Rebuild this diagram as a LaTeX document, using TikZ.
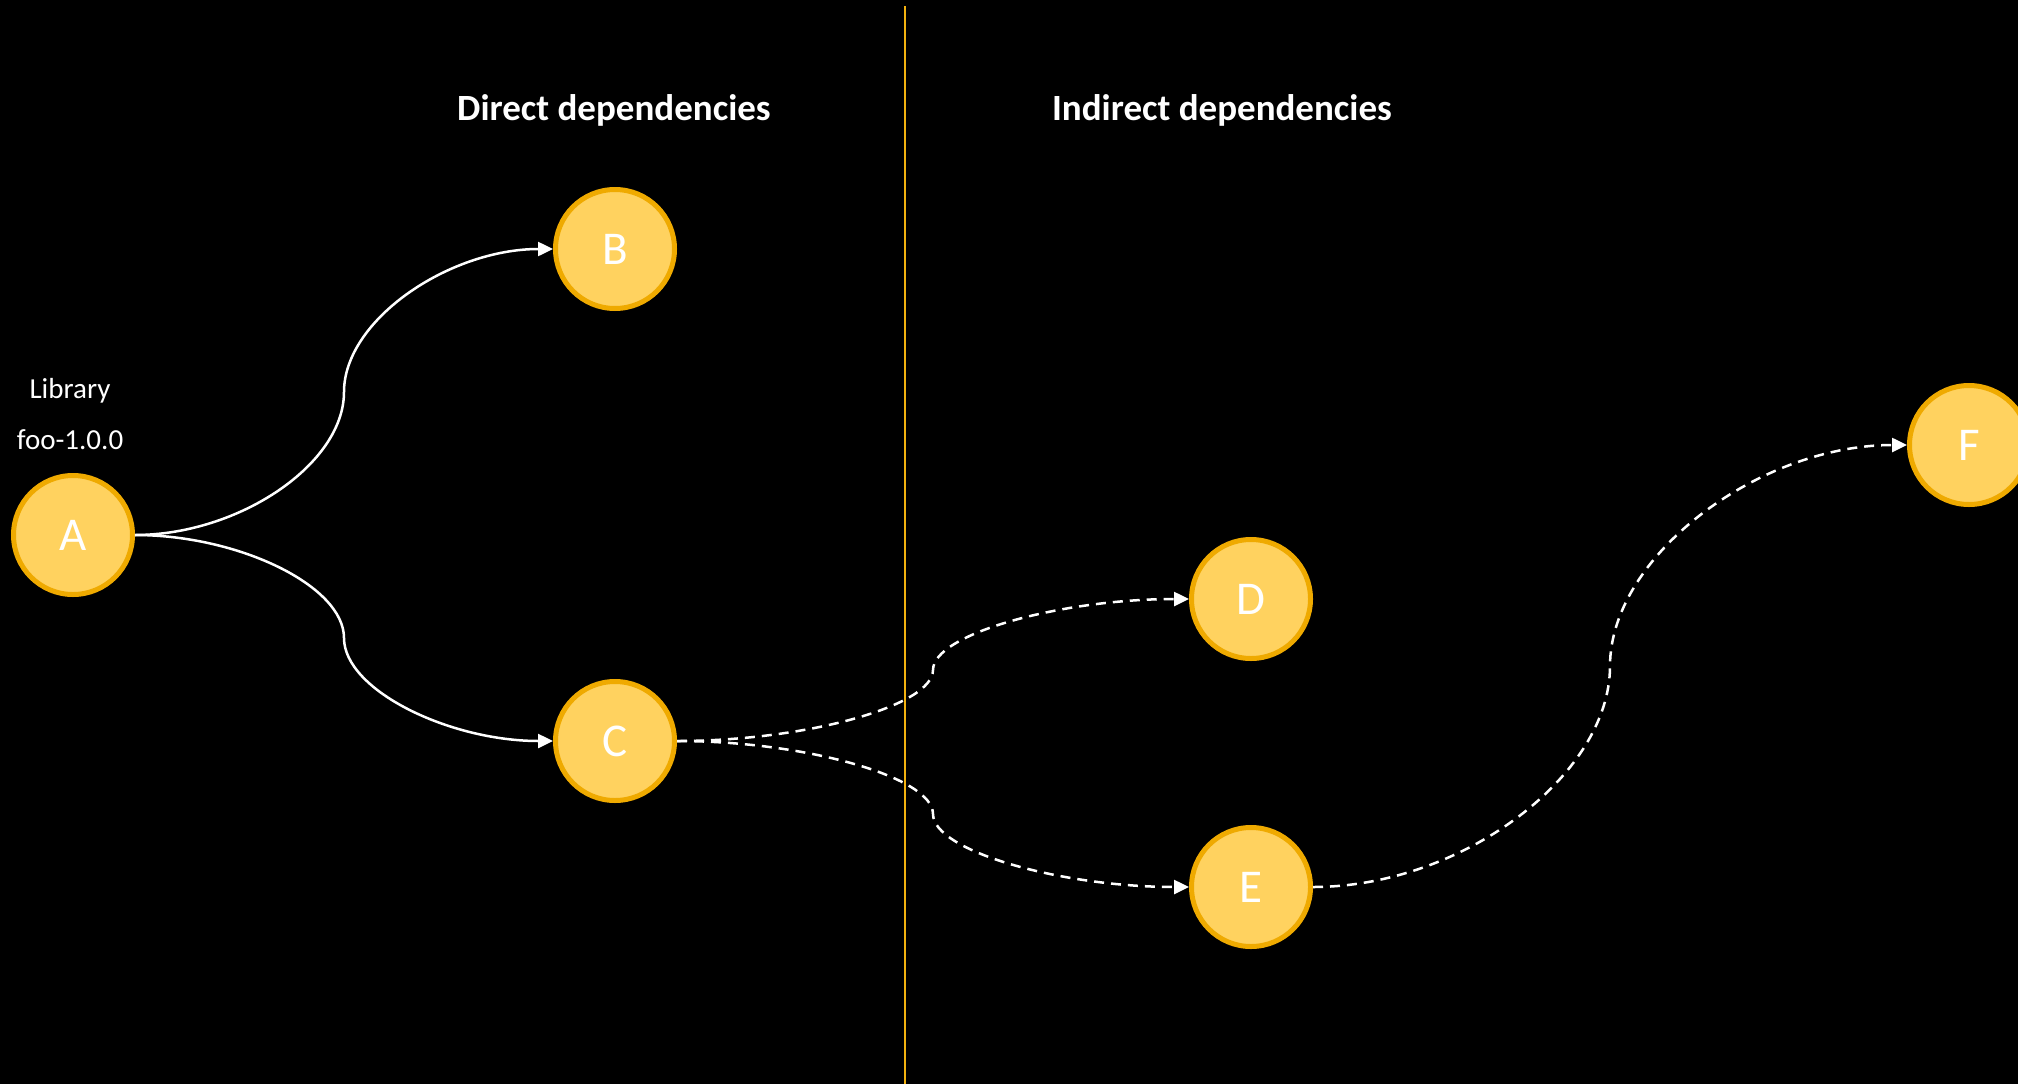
\documentclass[tikz,border=0pt]{standalone}
\usepackage{fontspec}
\setmainfont{Carlito}
\usetikzlibrary{arrows.meta,calc}

\definecolor{pkgfill}{HTML}{FFD25F}
\definecolor{pkgline}{HTML}{EFAA00}
\definecolor{sepline}{HTML}{F2B10F}

\begin{document}
\begin{tikzpicture}[x=1pt,y=-1pt]
  \tikzset{%
  >={Triangle[width=14pt,length=15pt]},
  % Specifications for style of nodes:
     pkg/.style = {circle, draw=pkgline, fill=pkgfill, line width=5pt,
                   minimum size=119pt, inner sep=0pt, text=white,
                   font=\fontsize{47}{56}\selectfont},
   title/.style = {anchor=base, text=white, font=\bfseries\fontsize{37}{44}\selectfont},
   caption/.style = {anchor=base, text=white, font=\fontsize{29}{35}\selectfont},
    link/.style = {->, draw=white, line width=2.5pt},
   ilink/.style = {link, dash pattern=on 10pt off 7pt},
  }
  % background and page size
  \fill[black] (0,0) rectangle (2018,1084);
  \useasboundingbox (0,0) rectangle (2018,1084);

  % separation between the two groups
  \draw[sepline, line width=2pt] (905,6) -- (905,1084);

  \node (direct) [title] at (614,120) {Direct dependencies};
  \node (indirect) [title] at (1222,120) {Indirect dependencies};

  % Specification of nodes (position, etc.)
  \node (A) [pkg] at (73,535) {A};
  \node (B) [pkg] at (615,249) {B};
  \node (C) [pkg] at (615,741) {C};
  \node (D) [pkg] at (1251,599) {D};
  \node (E) [pkg] at (1251,887) {E};
  \node (F) [pkg] at (1969,445) {F};

  \node (lib) [caption] at (70,398) {Library};
  \node (ver) [caption] at (70,449) {foo-1.0.0};

  % links: two halves meeting upright at the midpoint,
  % handles are a quarter of the width / height between the ends
  \draw[link] (A.east) to[out=0,in=-90,out distance=104,in distance=72] ($(A.east)!0.5!(B.west)$)
    to[out=90,in=180,out distance=72,in distance=104] (B.west);
  \draw[link] (A.east) to[out=0,in=90,out distance=104,in distance=52] ($(A.east)!0.5!(C.west)$)
    to[out=-90,in=180,out distance=52,in distance=104] (C.west);

  % indirect links
  \draw[ilink] (C.east) to[out=0,in=-90,out distance=128,in distance=36] ($(C.east)!0.5!(D.west)$)
    to[out=90,in=180,out distance=36,in distance=128] (D.west);
  \draw[ilink] (C.east) to[out=0,in=90,out distance=128,in distance=37] ($(C.east)!0.5!(E.west)$)
    to[out=-90,in=180,out distance=37,in distance=128] (E.west);
  \draw[ilink] (E.east) to[out=0,in=-90,out distance=148,in distance=110] ($(E.east)!0.5!(F.west)$)
    to[out=90,in=180,out distance=110,in distance=148] (F.west);

\end{tikzpicture}
\end{document}
